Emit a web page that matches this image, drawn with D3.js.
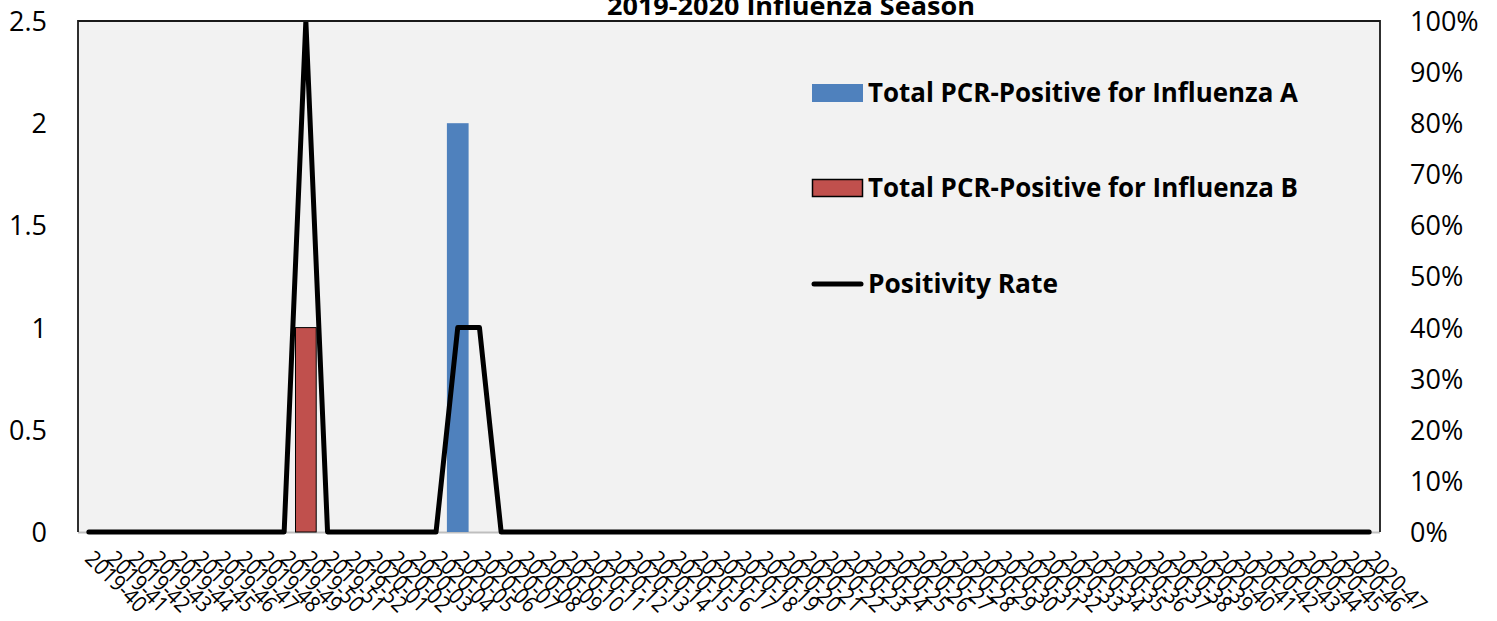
<!DOCTYPE html>
<html>
<head>
<meta charset="utf-8">
<script src="https://cdn.jsdelivr.net/npm/d3@7"></script>
<style>
  html, body { margin: 0; padding: 0; background: #ffffff; }
  svg { display: block; }
  text { font-family: "Open Sans", "Noto Sans", sans-serif; fill: #000; }
</style>
</head>
<body>
<svg id="chart" width="1497" height="621"></svg>
<script>
const weeks = ["2019-40","2019-41","2019-42","2019-43","2019-44","2019-45","2019-46","2019-47","2019-48","2019-49",
  "2019-50","2019-51","2019-52","2020-01","2020-02","2020-03","2020-04","2020-05","2020-06","2020-07",
  "2020-08","2020-09","2020-10","2020-11","2020-12","2020-13","2020-14","2020-15","2020-16","2020-17",
  "2020-18","2020-19","2020-20","2020-21","2020-22","2020-23","2020-24","2020-25","2020-26","2020-27",
  "2020-28","2020-29","2020-30","2020-31","2020-32","2020-33","2020-34","2020-35","2020-36","2020-37",
  "2020-38","2020-39","2020-40","2020-41","2020-42","2020-43","2020-44","2020-45","2020-46","2020-47"];
const fluA = [0,0,0,0,0,0,0,0,0,0, 0,0,0,0,0,0,0,2,0,0, 0,0,0,0,0,0,0,0,0,0, 0,0,0,0,0,0,0,0,0,0, 0,0,0,0,0,0,0,0,0,0, 0,0,0,0,0,0,0,0,0,0];
const fluB = [0,0,0,0,0,0,0,0,0,0, 1,0,0,0,0,0,0,0,0,0, 0,0,0,0,0,0,0,0,0,0, 0,0,0,0,0,0,0,0,0,0, 0,0,0,0,0,0,0,0,0,0, 0,0,0,0,0,0,0,0,0,0];
const positivity = [0,0,0,0,0,0,0,0,0,0, 1,0,0,0,0,0,0,0.4,0.4,0, 0,0,0,0,0,0,0,0,0,0, 0,0,0,0,0,0,0,0,0,0, 0,0,0,0,0,0,0,0,0,0, 0,0,0,0,0,0,0,0,0,0];
const leftTicks = [0, 0.5, 1, 1.5, 2, 2.5];
const rightTicks = [0, 0.1, 0.2, 0.3, 0.4, 0.5, 0.6, 0.7, 0.8, 0.9, 1.0];
const titleText = "2019-2020 Influenza Season";
const seriesNames = ["Total PCR-Positive for Influenza A", "Total PCR-Positive for Influenza B", "Positivity Rate"];

const svg = d3.select("#chart");
const plot = { left: 78, right: 1380, top: 21, bottom: 532 };

const x = d3.scaleBand().domain(weeks).range([plot.left, plot.right]).padding(0);
const yL = d3.scaleLinear().domain([0, 2.5]).range([plot.bottom, plot.top]);
const yR = d3.scaleLinear().domain([0, 1]).range([plot.bottom, plot.top]);

// plot background
svg.append("rect")
  .attr("x", plot.left).attr("y", plot.top)
  .attr("width", plot.right - plot.left).attr("height", plot.bottom - plot.top)
  .attr("fill", "#f2f2f2");

svg.append("defs").append("clipPath").attr("id", "clip")
  .append("rect")
  .attr("x", plot.left).attr("y", plot.top)
  .attr("width", plot.right - plot.left).attr("height", plot.bottom - plot.top + 10);

// x axis baseline (gray)
svg.append("line")
  .attr("x1", plot.left).attr("x2", plot.right)
  .attr("y1", plot.bottom + 0.5).attr("y2", plot.bottom + 0.5)
  .attr("stroke", "#bfbfbf").attr("stroke-width", 2);

// bars A
svg.append("g").selectAll("rect").data(weeks.map((w, i) => ({ w, v: fluA[i] })).filter(d => d.v > 0))
  .join("rect")
  .attr("x", d => x(d.w)).attr("width", x.bandwidth())
  .attr("y", d => yL(d.v)).attr("height", d => yL(0) - yL(d.v))
  .attr("fill", "#4f81bd");

// bars B
svg.append("g").selectAll("rect").data(weeks.map((w, i) => ({ w, v: fluB[i] })).filter(d => d.v > 0))
  .join("rect")
  .attr("x", d => x(d.w) + 0.5).attr("width", x.bandwidth() - 1)
  .attr("y", d => yL(d.v)).attr("height", d => yL(0) - yL(d.v))
  .attr("fill", "#c0504d").attr("stroke", "#000").attr("stroke-width", 1);

// positivity line
const line = d3.line()
  .x((d, i) => x(weeks[i]) + x.bandwidth() / 2)
  .y(d => yR(d));
svg.append("path")
  .attr("clip-path", "url(#clip)")
  .datum(positivity)
  .attr("d", line)
  .attr("fill", "none")
  .attr("stroke", "#000")
  .attr("stroke-width", 5)
  .attr("stroke-linejoin", "round")
  .attr("stroke-linecap", "round");

// plot border (left, top, right)
svg.append("path")
  .attr("d", `M${plot.left},${plot.bottom} V${plot.top} H${plot.right} V${plot.bottom}`)
  .attr("fill", "none").attr("stroke", "#1a1a1a").attr("stroke-width", 1.8);

// left axis
const leftAxis = d3.axisLeft(yL).tickValues(leftTicks).tickSize(0).tickPadding(0)
  .tickFormat(d => d3.format("")(d));
const gL = svg.append("g").attr("transform", `translate(47,0)`).call(leftAxis);
gL.select(".domain").remove();
gL.selectAll("text").attr("font-size", 27).attr("font-family", "'Open Sans', sans-serif").attr("fill", "#000").attr("dy", "0.35em");

// right axis
const rightAxis = d3.axisRight(yR).tickValues(rightTicks).tickSize(0).tickPadding(0)
  .tickFormat(d3.format(".0%"));
const gR = svg.append("g").attr("transform", `translate(1410,0)`).call(rightAxis);
gR.select(".domain").remove();
gR.selectAll("text").attr("font-size", 27).attr("font-family", "'Open Sans', sans-serif").attr("fill", "#000").attr("dy", "0.35em");

// category labels
const gX = svg.append("g");
gX.selectAll("text").data(weeks).join("text")
  .attr("transform", d => `translate(${x(d) + x.bandwidth() / 2 - 5},560) rotate(45)`)
  .attr("font-size", 22)
  .attr("text-anchor", "start")
  .attr("textLength", 76).attr("lengthAdjust", "spacingAndGlyphs")
  .text(d => d);

// title
svg.append("text")
  .attr("x", 791).attr("y", 15)
  .attr("text-anchor", "middle")
  .attr("font-size", 25).attr("font-weight", "bold")
  .attr("textLength", 368).attr("lengthAdjust", "spacingAndGlyphs")
  .text(titleText);

// legend
const lg = svg.append("g");
lg.append("rect").attr("x", 812).attr("y", 84).attr("width", 51).attr("height", 18).attr("fill", "#4f81bd");
lg.append("rect").attr("x", 812.5).attr("y", 179.5).attr("width", 50).attr("height", 17).attr("fill", "#c0504d")
  .attr("stroke", "#000").attr("stroke-width", 1.5);
lg.append("line").attr("x1", 814).attr("x2", 861).attr("y1", 284).attr("y2", 284)
  .attr("stroke", "#000").attr("stroke-width", 5).attr("stroke-linecap", "round");
const legendY = [102, 197, 293];
const legendW = [430, 430, 190];
lg.selectAll("text.leg").data(seriesNames).join("text")
  .attr("class", "leg")
  .attr("x", 868).attr("y", (d, i) => legendY[i])
  .attr("font-size", 26).attr("font-weight", "bold")
  .attr("textLength", (d, i) => legendW[i]).attr("lengthAdjust", "spacingAndGlyphs")
  .text(d => d);
</script>
</body>
</html>
